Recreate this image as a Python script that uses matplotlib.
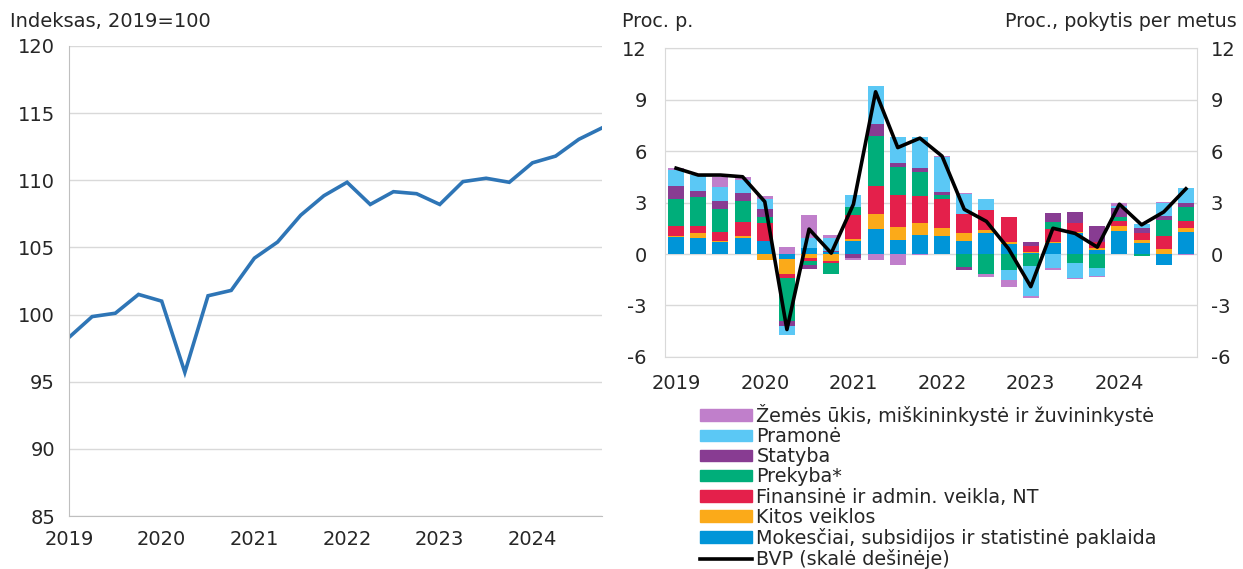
import numpy as np
import matplotlib
matplotlib.use("Agg")
import matplotlib.pyplot as plt
from matplotlib.patches import Patch
from matplotlib.lines import Line2D

plt.rcParams['font.family'] = ['DejaVu Sans']
plt.rcParams['axes.unicode_minus'] = False

# Ketvirčiai 2019Q1 - 2024Q4
metai = ['2019', '2020', '2021', '2022', '2023', '2024']

# Kairė: BVP indeksas, 2019=100
indeksas = [98.3, 99.85, 100.1, 101.5, 101.0, 95.7, 101.4, 101.8,
            104.2, 105.4, 107.4, 108.85, 109.85, 108.2, 109.15, 109.0,
            108.2, 109.9, 110.15, 109.85, 111.3, 111.8, 113.05, 113.9]

# Dešinė: indėliai (proc. p.)
zemes_ukis = [0.14, 0.02, 0.6, 0.19, 0.19, 0.38, 1.36, 0.2,
              -0.14, -0.35, -0.64, -0.05, 0.08, 0.06, -0.15, -0.39,
              -0.16, -0.14, -0.06, -0.06, 0.14, 0.0, 0.1, -0.06]
pramone = [0.9, 0.93, 0.83, 0.78, 0.56, -0.56, 0.58, 0.74,
           0.74, 2.25, 1.48, 1.77, 2.05, 1.17, 0.66, -0.58,
           -1.73, -0.8, -0.91, -0.49, 0.12, 0.24, 0.74, 0.83]
statyba = [0.77, 0.37, 0.45, 0.45, 0.45, -0.3, -0.23, 0.08,
           -0.21, 0.68, 0.23, 0.23, 0.15, -0.14, -0.02, 0.0,
           0.19, 0.52, 0.64, 0.93, 0.53, 0.3, 0.23, 0.23]
prekyba = [1.56, 1.65, 1.32, 1.2, 0.39, -2.48, -0.23, -0.66,
           0.43, 2.91, 1.65, 1.42, 0.23, -0.78, -1.17, -0.93,
           -0.7, 0.45, -0.5, -0.8, 0.24, -0.12, 0.93, 0.82]
finansine = [0.58, 0.45, 0.54, 0.83, 1.0, -0.22, -0.16, -0.1,
             1.42, 1.63, 1.84, 1.59, 1.71, 1.14, 1.15, 1.46,
             0.35, 0.74, 0.54, 0.39, 0.3, 0.39, 0.76, 0.45]
kitos = [0.09, 0.29, 0.08, 0.14, -0.35, -0.9, -0.25, -0.4,
         0.1, 0.89, 0.78, 0.66, 0.43, 0.43, 0.21, 0.14,
         0.06, 0.08, 0.08, 0.1, 0.28, 0.21, 0.29, 0.19]
mokesciai = [0.97, 0.91, 0.68, 0.91, 0.78, -0.28, 0.35, 0.1,
             0.76, 1.44, 0.82, 1.13, 1.07, 0.78, 1.2, 0.58,
             0.08, 0.62, 1.2, 0.23, 1.35, 0.62, -0.64, 1.3]
bvp = [5.0, 4.6, 4.6, 4.5, 3.05, -4.4, 1.45, 0.05,
       2.9, 9.45, 6.2, 6.75, 5.7, 2.6, 1.9, 0.3,
       -1.9, 1.5, 1.2, 0.4, 2.9, 1.7, 2.45, 3.8]

# Sluoksniai iš apačios į viršų
sluoksniai = [
    ('Mokesčiai, subsidijos ir statistinė paklaida', mokesciai, '#0095D8'),
    ('Kitos veiklos', kitos, '#FBAA19'),
    ('Finansinė ir admin. veikla, NT', finansine, '#E4204B'),
    ('Prekyba*', prekyba, '#00AE7A'),
    ('Statyba', statyba, '#883C92'),
    ('Pramonė', pramone, '#5BC8F5'),
    ('Žemės ūkis, miškininkystė ir žuvininkystė', zemes_ukis, '#C07FCB'),
]

tekstas = '#262626'
tinklelis = '#D9D9D9'

fig = plt.figure(figsize=(12.43, 5.69), dpi=100)

# ---- Kairė diagrama ----
ax1 = fig.add_axes([0.0555, 0.0931, 0.4288, 0.8261])
x = np.arange(len(indeksas))
ax1.plot(x, indeksas, color='#2E75B6', lw=2.6, solid_joinstyle='miter')
ax1.set_xlim(0, len(indeksas) - 1)
ax1.set_ylim(85, 120)
ax1.set_yticks(range(85, 121, 5))
ax1.set_xticks(np.arange(0, len(indeksas), 4))
ax1.set_xticklabels(metai)
ax1.grid(axis='y', color=tinklelis, lw=1)
ax1.set_axisbelow(True)
for s in ['top', 'right']:
    ax1.spines[s].set_visible(False)
ax1.spines['left'].set_color('#BFBFBF')
ax1.spines['bottom'].set_color('#BFBFBF')
ax1.tick_params(length=0, labelsize=14, colors=tekstas)
ax1.tick_params(axis='y', pad=10)
ax1.tick_params(axis='x', pad=10)
fig.text(0.008, 0.963, 'Indeksas, 2019=100', fontsize=14, color=tekstas, va='center')

# ---- Dešinė diagrama ----
ax2 = fig.add_axes([0.535, 0.3726, 0.428, 0.543])
xb = np.arange(len(bvp))
pos = np.zeros(len(bvp))
neg = np.zeros(len(bvp))
for pav, reiksmes, spalva in sluoksniai:
    v = np.array(reiksmes)
    apacia = np.where(v >= 0, pos, neg)
    ax2.bar(xb, v, bottom=apacia, width=0.72, color=spalva, lw=0)
    pos = pos + np.clip(v, 0, None)
    neg = neg + np.clip(v, None, 0)

ax2.set_xlim(-0.5, len(bvp) - 0.5)
ax2.set_ylim(-6, 12)
ax2.set_yticks(range(-6, 13, 3))
ax2.set_xticks(np.arange(0, len(bvp), 4))
ax2.set_xticklabels(metai)
ax2.grid(axis='y', color=tinklelis, lw=1)
ax2.set_axisbelow(True)
for s in ax2.spines.values():
    s.set_color(tinklelis)
ax2.tick_params(length=0, labelsize=14, colors=tekstas)
ax2.tick_params(axis='y', pad=13)
ax2.tick_params(axis='x', pad=12)

ax3 = ax2.twinx()
ax3.plot(xb, bvp, color='black', lw=2.6)
ax3.set_ylim(-6, 12)
ax3.set_yticks(range(-6, 13, 3))
for s in ax3.spines.values():
    s.set_visible(False)
ax3.tick_params(length=0, labelsize=14, colors=tekstas, pad=10)

fig.text(0.5005, 0.963, 'Proc. p.', fontsize=13.8, color=tekstas, va='center')
fig.text(0.995, 0.963, 'Proc., pokytis per metus', fontsize=13.8, color=tekstas,
         va='center', ha='right')

# Legenda
rankenos = [Patch(color=c, label=p) for p, _, c in reversed(sluoksniai)]
rankenos.append(Line2D([], [], color='black', lw=2.6, label='BVP (skalė dešinėje)'))
fig.legend(handles=rankenos, loc='upper left', bbox_to_anchor=(0.563, 0.29),
           frameon=False, fontsize=13.8, handlelength=2.7, handleheight=0.55,
           handletextpad=0.25, labelspacing=0.06, borderpad=0, borderaxespad=0,
           labelcolor=tekstas)

fig.savefig('out.png', dpi=100)
